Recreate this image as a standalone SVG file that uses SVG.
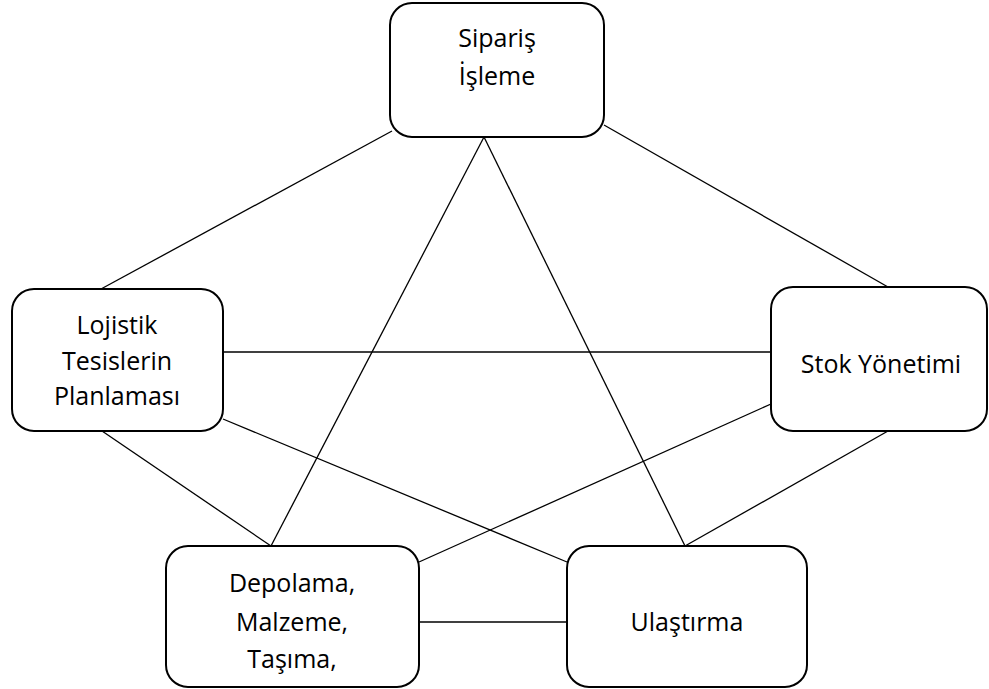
<svg xmlns="http://www.w3.org/2000/svg" width="989" height="689" viewBox="0 0 989 689">
<style>
.box{fill:#fff;stroke:#000;stroke-width:2}
.ln{stroke:#000;stroke-width:1.3;fill:none}
text{font-family:"Open Sans","Liberation Sans",sans-serif;font-size:25px;fill:#000;text-anchor:middle}
</style>
<rect width="989" height="689" fill="#fff"/>
<g id="connectors">
<line class="ln" x1="392" y1="131" x2="101" y2="289"/>
<line class="ln" x1="604" y1="125" x2="888" y2="287"/>
<line class="ln" x1="484" y1="137" x2="271" y2="546"/>
<line class="ln" x1="484" y1="137" x2="685" y2="546"/>
<line class="ln" x1="223" y1="352" x2="771" y2="352"/>
<line class="ln" x1="102" y1="431" x2="271" y2="546"/>
<line class="ln" x1="223" y1="419" x2="567" y2="562"/>
<line class="ln" x1="771" y1="404" x2="419" y2="562"/>
<line class="ln" x1="888" y1="431" x2="685" y2="546"/>
<line class="ln" x1="419" y1="622" x2="567" y2="622"/>
</g>
<g id="siparis">
<rect class="box" x="390" y="3" width="214" height="134" rx="22"/>
<text x="497" y="47">Sipariş</text>
<text x="497" y="85">İşleme</text>
</g>
<g id="lojistik">
<rect class="box" x="12" y="289" width="211" height="142" rx="22"/>
<text x="117" y="334">Lojistik</text>
<text x="117" y="370">Tesislerin</text>
<text x="117" y="405">Planlaması</text>
</g>
<g id="stok">
<rect class="box" x="771" y="287" width="216" height="144" rx="22"/>
<text x="881" y="373">Stok Yönetimi</text>
</g>
<g id="depolama">
<rect class="box" x="166" y="546" width="253" height="141" rx="22"/>
<text x="292" y="592">Depolama,</text>
<text x="292" y="631">Malzeme,</text>
<text x="292" y="668">Taşıma,</text>
</g>
<g id="ulastirma">
<rect class="box" x="567" y="546" width="240" height="141" rx="22"/>
<text x="687" y="631">Ulaştırma</text>
</g>
</svg>
